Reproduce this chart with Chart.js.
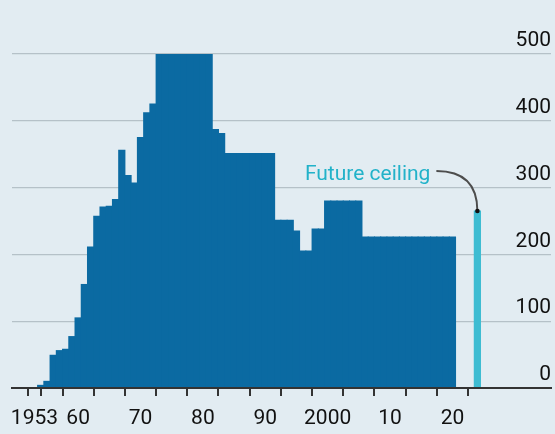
<!DOCTYPE html>
<html>
<head>
<meta charset="utf-8">
<script src="https://cdn.jsdelivr.net/npm/chart.js@4.4.1/dist/chart.umd.min.js"></script>
<style>
  html, body { margin: 0; padding: 0; background: #e2ecf2; }
  #wrap { position: relative; width: 555px; height: 434px; }
</style>
</head>
<body>
<div id="wrap"><canvas id="chart"></canvas></div>
<script>
// yearly values
const years = [
  1954, 1955, 1956, 1957, 1958, 1959, 1960, 1961, 1962, 1963,
  1964, 1965, 1966, 1967, 1968, 1969, 1970, 1971, 1972, 1973,
  1974, 1975, 1976, 1977, 1978, 1979, 1980, 1981, 1982, 1983,
  1984, 1985, 1986, 1987, 1988, 1989, 1990, 1991, 1992, 1993,
  1994, 1995, 1996, 1997, 1998, 1999, 2000, 2001, 2002, 2003,
  2004, 2005, 2006, 2007, 2008, 2009, 2010, 2011, 2012, 2013,
  2014, 2015, 2016, 2017, 2018, 2019, 2020
];
const values = [
  4, 10, 49, 56, 58, 77, 105, 155, 211, 257,
  271, 272, 282, 356, 318, 307, 375, 412, 425, 500,
  500, 500, 500, 500, 500, 500, 500, 500, 387, 381,
  351, 351, 351, 351, 351, 351, 351, 351, 251, 251,
  251, 235, 205, 205, 238, 238, 280, 280, 280, 280,
  280, 280, 226, 226, 226, 226, 226, 226, 226, 226,
  226, 226, 226, 226, 226, 226, 226
];
const futureYears = [2024];
const futureValues = [265];

const xTickYears = [1953, 1955, 1960, 1965, 1970, 1975, 1980, 1985, 1990, 1995, 2000, 2005, 2010, 2015, 2020];
const xLabelYears = [1953, 1960, 1970, 1980, 1990, 2000, 2010, 2020];
const xLabelText = ['1953', '60', '70', '80', '90', '2000', '10', '20'];
const yTicks = [0, 100, 200, 300, 400, 500];

const FONT = "Roboto, 'DejaVu Sans Condensed', sans-serif";
Chart.defaults.font.family = FONT;

// "Future ceiling" label with the curved pointer
const calloutPlugin = {
  id: 'callout',
  afterDatasetsDraw(chart) {
    const { ctx, scales: { x, y } } = chart;
    const px = x.getPixelForValue(futureYears[0]);
    const py = y.getPixelForValue(futureValues[0]);
    ctx.save();
    ctx.strokeStyle = '#4d4d4d';
    ctx.lineWidth = 2;
    ctx.beginPath();
    ctx.moveTo(px - 41, py - 40);
    ctx.quadraticCurveTo(px, py - 40, px, py);
    ctx.stroke();
    ctx.fillStyle = '#111';
    ctx.beginPath();
    ctx.arc(px, py, 2.3, 0, Math.PI * 2);
    ctx.fill();
    ctx.fillStyle = '#22b2c9';
    ctx.font = '21px ' + FONT;
    ctx.textAlign = 'right';
    ctx.textBaseline = 'alphabetic';
    ctx.fillText('Future ceiling', px - 47, py - 31);
    ctx.restore();
  }
};

new Chart(document.getElementById('chart'), {
  type: 'bar',
  data: {
    datasets: [
      {
        label: 'Ceiling',
        data: years.map((yr, i) => ({ x: yr, y: values[i] })),
        backgroundColor: '#0b6aa2',
        borderWidth: 0,
        barPercentage: 1,
        categoryPercentage: 1,
        grouped: false,
        inflateAmount: 0.5
      },
      {
        label: 'Future ceiling',
        data: futureYears.map((yr, i) => ({ x: yr, y: futureValues[i] })),
        backgroundColor: '#3ebcd2',
        borderWidth: 0,
        barPercentage: 1,
        categoryPercentage: 1,
        grouped: false,
        inflateAmount: 0.5
      }
    ]
  },
  options: {
    responsive: true,
    maintainAspectRatio: false,
    animation: false,
    layout: { padding: { top: 54, right: 4, bottom: 0, left: 12 } },
    plugins: { legend: { display: false }, tooltip: { enabled: false } },
    scales: {
      x: {
        type: 'linear',
        min: 1949.4,
        max: 2035.8,
        offset: false,
        afterBuildTicks: s => { s.ticks = xTickYears.map(v => ({ value: v })); },
        afterFit: s => { s.height = 46; },
        grid: { drawOnChartArea: false, drawTicks: true, tickLength: 8, color: '#333', lineWidth: 2 },
        border: { display: true, color: '#333', width: 2, z: 1 },
        ticks: {
          autoSkip: false,
          maxRotation: 0,
          padding: 10,
          color: '#111',
          font: { size: 21 },
          callback: v => {
            const i = xLabelYears.indexOf(v);
            return i >= 0 ? xLabelText[i] : '';
          }
        }
      },
      y: {
        position: 'right',
        min: 0,
        max: 500,
        afterBuildTicks: s => { s.ticks = yTicks.map(v => ({ value: v })); },
        afterFit: s => { s.width = 0; },
        grid: { drawTicks: false, color: '#b5c1c8', lineWidth: 1.2 },
        border: { display: false },
        ticks: { mirror: true, padding: 0, labelOffset: -13, color: '#111', font: { size: 21 } }
      }
    }
  },
  plugins: [calloutPlugin]
});
</script>
</body>
</html>
